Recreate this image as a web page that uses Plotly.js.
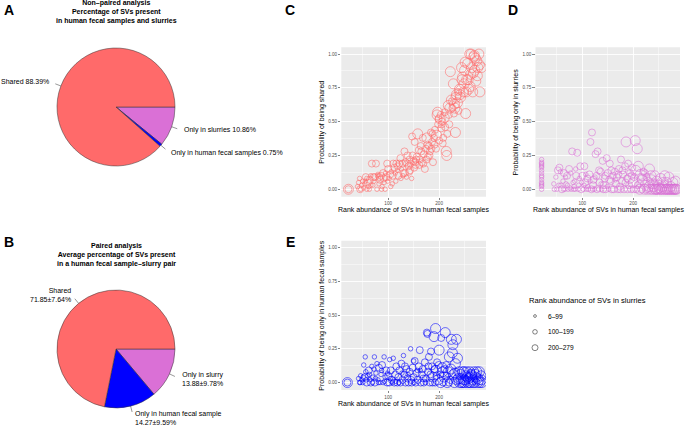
<!DOCTYPE html>
<html>
<head>
<meta charset="utf-8">
<script src="https://cdn.plot.ly/plotly-3.0.1.min.js"></script>
<style>html,body{margin:0;padding:0;background:#fff;}#chart{width:685px;height:425px;}</style>
</head>
<body>
<div id="chart"></div>
<script>
// ---------------- DATA ----------------
// Pie A: non-paired analysis
const pieACategories = ['Only in slurries', 'Only in human fecal samples', 'Shared'];
const pieAValues = [10.86, 0.75, 88.39];
// Pie B: paired analysis (mean ± sd)
const pieBCategories = ['Only in slurry', 'Only in human fecal sample', 'Shared'];
const pieBMeans = [13.88, 14.27, 71.85];
const pieBSDs = [9.78, 9.59, 7.64];

// Scatter points: [rank abundance in human fecal samples, probability, slurry rank group (1: 6-99, 2: 100-199, 3: 200-279)]
const sharedPoints = [
[22,0,3],[22,0,2],
[40,0.02,1],[42,0.05,1],[44,0.08,1],[46,0.0,1],[48,0.03,1],[50,0.06,1],[52,0.01,1],[54,0.04,1],[56,0.09,2],[58,0.0,1],[60,0.05,2],[62,0.02,1],[64,0.07,2],[66,0.1,1],[68,0.19,2],[70,0.03,1],[72,0.06,1],[74,0.09,2],[76,0.19,2],[78,0.0,1],[80,0.11,1],[82,0.04,1],[84,0.07,2],[86,0.1,2],[88,0.02,1],[90,0.12,2],[92,0.05,1],[94,0.0,1],[96,0.09,2],[98,0.19,2],
[45,0.0,2],[55,0.06,1],[63,0.0,1],[71,0.09,2],[79,0.1,1],[87,0.0,1],[95,0.12,1],[99,0.06,1],[58,0.08,1],[66,0.03,1],[83,0.09,2],[91,0.08,2],
[100,0.15,2],[102,0.08,1],[104,0.11,2],[106,0.13,1],[108,0.04,1],[110,0.19,2],[112,0.16,2],[114,0.12,1],[116,0.19,2],[118,0.14,1],[120,0.1,2],[122,0.19,2],[124,0.23,2],[126,0.15,1],[128,0.19,2],[130,0.12,2],[132,0.28,2],[134,0.2,2],[136,0.09,1],[138,0.25,2],[140,0.17,2],[142,0.22,2],[144,0.19,2],[146,0.08,1],[148,0.25,2],[150,0.21,2],[152,0.35,2],[154,0.18,2],[156,0.24,2],[158,0.41,3],[160,0.29,2],
[105,0.02,1],[115,0.06,1],[125,0.08,1],[133,0.12,2],[143,0.14,2],[147,0.39,2],[153,0.2,2],[109,0.1,2],[119,0.17,2],[129,0.1,1],[137,0.19,2],[141,0.13,2],[151,0.16,2],[155,0.22,2],
[162,0.22,2],[164,0.32,2],[166,0.2,2],[168,0.38,2],[170,0.26,2],[172,0.15,2],[174,0.3,2],[176,0.38,3],[178,0.24,2],[180,0.32,2],[182,0.28,2],[184,0.42,2],[186,0.35,2],[188,0.2,2],[190,0.38,2],[192,0.44,2],[194,0.3,2],[196,0.55,3],[198,0.48,2],[200,0.36,2],
[165,0.28,2],[175,0.22,2],[185,0.3,2],[195,0.4,3],[199,0.52,2],[187,0.41,2],[181,0.25,2],[169,0.19,2],[177,0.33,2],[191,0.33,2],[197,0.57,3],[161,0.18,2],
[202,0.52,3],[204,0.45,2],[206,0.5,2],[208,0.38,2],[210,0.53,3],[212,0.46,2],[214,0.28,3],[216,0.41,2],[218,0.62,3],[220,0.48,2],[222,0.87,3],[224,0.66,3],[226,0.6,2],[228,0.78,3],[230,0.63,3],[232,0.42,3],[234,0.7,3],[236,0.64,3],[238,0.58,2],[240,0.74,3],
[203,0.55,2],[207,0.34,2],[211,0.57,2],[215,0.25,3],[219,0.55,2],[225,0.65,2],[229,0.56,2],[233,0.68,3],[237,0.72,2],[205,0.48,2],[221,0.6,3],[231,0.6,3],
[242,0.68,3],[244,0.9,3],[246,0.83,3],[248,0.72,3],[250,0.88,3],[252,0.56,3],[254,0.81,3],[256,0.93,3],[258,0.74,3],[260,1.0,3],[262,0.85,3],[264,0.9,3],[266,0.72,3],[268,0.98,3],[270,0.88,3],[272,0.8,3],[274,0.95,3],[276,0.9,3],[278,1.0,3],[280,0.72,3],[283,0.9,3],
[245,0.81,3],[251,0.94,3],[257,0.81,3],[263,1.0,3],[267,0.86,3],[271,0.97,3],[275,0.84,3],[279,0.92,3],[269,0.99,3],[261,0.76,3],[253,0.72,3],[241,0.7,3],[249,0.78,3]
];

const onlySlurryPoints = [
[20,0,1],[20,0.02,1],[20,0.03,1],[20,0.04,1],[20,0.05,1],[20,0.07,1],[20,0.09,1],[20,0.1,1],[20,0.12,1],[20,0.14,1],[20,0.16,1],[20,0.17,1],[20,0.18,1],[20,0.19,1],[20,0.2,1],[20,0.22,1],
[45,0.0,1],[48,0.09,1],[50,0.0,1],[52,0.14,2],[55,0.16,2],[58,0.03,1],[60,0.0,2],[62,0.06,1],[64,0.12,2],[66,0.0,1],[68,0.04,1],[70,0.1,2],[72,0.0,1],[74,0.15,2],[76,0.01,1],[78,0.0,1],[80,0.28,2],[82,0.05,1],[84,0.02,1],[86,0.0,1],[88,0.1,2],[90,0.27,2],[92,0.0,1],[94,0.08,1],[96,0.17,2],[98,0.0,2],[99,0.05,1],
[44,0.04,1],[54,0.03,1],[57,0.13,1],[63,0.0,1],[67,0.09,1],[71,0.03,1],[77,0.12,1],[83,0.0,1],[87,0.15,1],[93,0.03,1],[85,0.06,1],
[100,0.1,2],[102,0.0,1],[104,0.17,2],[106,0.05,2],[108,0.0,1],[110,0.08,2],[112,0.0,1],[114,0.11,2],[116,0.35,2],[118,0.0,2],[119,0.42,2],[120,0.0,1],[122,0.07,2],[124,0.0,1],[126,0.26,2],[128,0.1,2],[130,0.28,2],[132,0.0,1],[134,0.05,2],[136,0.13,2],[138,0.0,1],[140,0.21,2],[142,0.03,2],[144,0.08,2],[146,0.0,2],[148,0.23,2],[150,0.12,2],[152,0.0,1],[154,0.19,2],[156,0.06,2],[158,0.0,2],[160,0.1,2],
[103,0.03,1],[107,0.11,1],[111,0.02,1],[115,0.06,1],[121,0.03,2],[125,0.09,1],[129,0.0,2],[133,0.14,2],[137,0.04,1],[141,0.0,2],[145,0.1,2],[149,0.02,1],[153,0.07,2],[157,0.14,2],
[162,0.0,2],[164,0.13,2],[166,0.04,2],[168,0.09,2],[170,0.0,2],[172,0.15,2],[174,0.02,2],[176,0.22,2],[178,0.06,2],[180,0.11,2],[182,0.0,2],[184,0.17,2],[186,0.35,3],[188,0.08,2],[190,0.19,2],[192,0.03,2],[194,0.12,2],[196,0.0,2],[198,0.16,2],[200,0.05,3],[202,0.09,2],[204,0.36,3],[206,0.0,2],[208,0.3,3],[210,0.17,3],[212,0.04,2],[214,0.11,3],[216,0.0,2],[218,0.07,3],[220,0.13,2],
[165,0.07,1],[171,0.11,2],[175,0.0,2],[179,0.14,2],[185,0.05,2],[189,0.0,2],[193,0.08,3],[197,0.1,2],[201,0.0,2],[205,0.14,3],[209,0.03,2],[213,0.0,3],[217,0.09,2],
[222,0.0,3],[224,0.03,3],[226,0.09,2],[228,0.0,3],[230,0.05,3],[232,0.15,3],[234,0.0,3],[236,0.07,3],[238,0.0,3],[240,0.02,3],[242,0.1,3],[244,0.0,3],[246,0.06,3],[248,0.0,3],[250,0.03,3],[252,0.0,3],[254,0.08,3],[256,0.0,3],[258,0.02,3],[260,0.0,3],[262,0.1,3],[264,0.0,3],[266,0.05,3],[268,0.0,3],[270,0.09,3],[272,0.0,3],[274,0.02,3],[276,0.0,3],[278,0.05,3],[280,0.0,3],[282,0.0,3],[284,0.0,3],
[223,0.12,2],[227,0.0,2],[231,0.02,3],[235,0.1,3],[239,0.04,3],[243,0.0,3],[247,0.0,3],[251,0.01,3],[255,0.0,3],[259,0.05,3],[263,0.0,3],[267,0.0,3],[271,0.0,3],[275,0.0,3],[279,0.0,3],[283,0.06,3],[285,0.0,3]
];

const onlyHumanPoints = [
[20,0,3],[20,0,2],
[42,0.03,1],[44,0.0,1],[46,0.05,1],[48,0.02,1],[50,0.0,1],[52,0.13,1],[54,0.04,2],[55,0.19,1],[56,0.08,1],[58,0.0,2],[60,0.05,1],[62,0.09,2],[64,0.02,1],[66,0.0,2],[68,0.12,1],[70,0.04,1],[72,0.1,1],[73,0.19,1],[74,0.0,2],[76,0.07,1],[78,0.14,1],[80,0.02,1],[82,0.11,2],[84,0.0,1],[86,0.06,1],[88,0.13,2],[90,0.0,1],[92,0.19,1],[94,0.04,1],[96,0.09,2],[98,0.0,2],
[45,0.0,1],[51,0.04,1],[57,0.02,1],[63,0.06,1],[69,0.0,1],[75,0.03,1],[81,0.0,1],[87,0.09,1],[93,0.01,1],[99,0.07,1],
[100,0.05,2],[102,0.0,2],[103,0.17,1],[105,0.09,2],[107,0.02,2],[110,0.18,1],[112,0.0,2],[114,0.06,2],[116,0.12,2],[118,0.0,2],[120,0.04,2],[122,0.09,2],[124,0.0,2],[126,0.14,2],[128,0.02,2],[130,0.2,1],[132,0.06,2],[134,0.0,2],[136,0.1,2],[138,0.03,2],[140,0.0,2],[142,0.08,2],[144,0.25,1],[146,0.0,2],[148,0.11,2],[150,0.04,2],[152,0.16,2],[154,0.0,2],[156,0.07,2],[158,0.02,2],[160,0.12,2],
[104,0.03,1],[108,0.0,1],[115,0.01,1],[121,0.0,1],[127,0.07,1],[133,0.12,2],[139,0.06,1],[145,0.02,2],[151,0.0,1],[157,0.09,1],[150,0.16,1],
[162,0.24,2],[164,0.0,2],[166,0.06,2],[168,0.1,2],[170,0.0,2],[172,0.15,2],[174,0.03,2],[176,0.37,2],[177,0.36,2],[178,0.08,2],[180,0.19,2],[182,0.0,2],[184,0.23,2],[186,0.12,2],[188,0.04,3],[190,0.34,3],[192,0.0,2],[193,0.4,3],[194,0.09,3],[196,0.15,2],[198,0.02,3],[200,0.24,3],[202,0.06,2],[204,0.33,2],[206,0.11,3],[208,0.0,2],[210,0.04,3],[212,0.37,3],[214,0.13,2],[216,0.0,3],[218,0.08,3],[220,0.19,3],[222,0.02,2],[224,0.32,3],[226,0.22,3],[228,0.06,3],[230,0.0,3],[232,0.14,3],[234,0.32,3],[236,0.18,3],[238,0.03,3],[240,0.0,3],
[163,0.09,1],[169,0.03,2],[173,0.0,1],[179,0.12,2],[183,0.06,2],[187,0.0,2],[191,0.1,2],[195,0.05,2],[199,0.13,2],[203,0.0,3],[207,0.08,3],[211,0.1,2],[215,0.05,2],[219,0.0,2],[223,0.1,3],[227,0.28,3],[231,0.07,3],[235,0.02,3],[239,0.08,3],
[242,0.06,3],[244,0.0,3],[246,0.08,3],[248,0.02,3],[250,0.0,3],[252,0.05,3],[254,0.08,3],[256,0.0,3],[258,0.03,3],[260,0.08,3],[262,0.0,3],[264,0.05,3],[266,0.02,3],[268,0.08,3],[270,0.0,3],[272,0.04,3],[274,0.08,3],[276,0.0,3],[278,0.02,3],[280,0.0,3],[282,0.05,3],[284,0.0,3],
[243,0.03,3],[247,0.0,3],[251,0.02,3],[255,0.04,3],[259,0.0,3],[263,0.06,3],[267,0.0,3],[271,0.06,3],[275,0.03,3],[279,0.08,3],[283,0.02,3],[249,0.08,3],[261,0.04,3]
];

const sizeGroupLabels = ['6\u201399', '100\u2013199', '200\u2013279'];
const sizeGroups = [1, 2, 3];

// ---------------- STYLE / LAYOUT ----------------
const W = 685, H = 425;
const PX = v => v / W;
const PY = v => 1 - v / H;
const FONT = 'Liberation Sans, Arial, Helvetica, sans-serif';
const RED = '#FF6A6A', ORCHID = '#DA70D6', BLUE = '#0000FF';
const SIZE_PX = {1: 4.5, 2: 7, 3: 10};
const LEGEND_SIZE_PX = {1: 2.8, 2: 4.6, 3: 6};

const pieA = {cx: 116, cy: 107, r: 59};
const pieB = {cx: 116, cy: 349, r: 59};

function pieDomain(p) {
  return {x: [PX(p.cx - p.r), PX(p.cx + p.r)], y: [PY(p.cy + p.r), PY(p.cy - p.r)]};
}

const traces = [];
traces.push({
  type: 'pie', values: pieAValues, labels: pieACategories, sort: false,
  direction: 'clockwise', rotation: 90, textinfo: 'none', hoverinfo: 'label+value',
  marker: {colors: [ORCHID, BLUE, RED], line: {color: '#333333', width: 0.5}},
  domain: pieDomain(pieA), showlegend: false
});
traces.push({
  type: 'pie', values: pieBMeans, labels: pieBCategories, sort: false,
  direction: 'clockwise', rotation: 90, textinfo: 'none', hoverinfo: 'label+value',
  marker: {colors: [ORCHID, BLUE, RED], line: {color: '#333333', width: 0.5}},
  domain: pieDomain(pieB), showlegend: false
});

function scatterTrace(points, color, xa, ya) {
  return {
    type: 'scatter', mode: 'markers', xaxis: xa, yaxis: ya,
    x: points.map(p => p[0]), y: points.map(p => p[1]),
    marker: {symbol: 'circle-open', color: color, size: points.map(p => SIZE_PX[p[2]]),
             line: {color: color, width: 0.8}},
    showlegend: false, hoverinfo: 'x+y'
  };
}
traces.push(scatterTrace(sharedPoints, RED, 'x', 'y'));
traces.push(scatterTrace(onlySlurryPoints, ORCHID, 'x2', 'y2'));
traces.push(scatterTrace(onlyHumanPoints, BLUE, 'x3', 'y3'));

// size legend keys
traces.push({
  type: 'scatter', mode: 'markers', xaxis: 'x4', yaxis: 'y4', cliponaxis: false,
  x: sizeGroups.map(() => 0), y: sizeGroups,
  marker: {symbol: 'circle-open', color: '#000', size: sizeGroups.map(g => LEGEND_SIZE_PX[g]), line: {color: '#000', width: 0.7}},
  showlegend: false, hoverinfo: 'skip'
});

// panel geometry (px)
const C = {l: 341.3, r: 486, t: 47.3, b: 196.7};
const D = {l: 535.5, r: 680, t: 47.3, b: 196.7};
const E = {l: 341.3, r: 486, t: 240.7, b: 390};

function xAxis(box, anchor) {
  return {
    domain: [PX(box.l), PX(box.r)], anchor: anchor, range: [8, 292],
    tickmode: 'linear', tick0: 0, dtick: 100,
    ticks: 'outside', ticklen: 2.2, tickwidth: 0.6, tickcolor: '#333333',
    tickfont: {family: FONT, size: 4.6, color: '#4D4D4D'},
    showgrid: true, gridcolor: '#FFFFFF', gridwidth: 0.9,
    minor: {tick0: 0, dtick: 50, showgrid: true, gridcolor: '#FFFFFF', gridwidth: 0.45, ticks: ''},
    zeroline: false, showline: false, fixedrange: true
  };
}
function yAxis(box, anchor) {
  return {
    domain: [PY(box.b), PY(box.t)], anchor: anchor, range: [-0.055, 1.05],
    tickmode: 'linear', tick0: 0, dtick: 0.25, tickformat: '.2f',
    ticks: 'outside', ticklen: 2.2, tickwidth: 0.6, tickcolor: '#333333',
    tickfont: {family: FONT, size: 4.6, color: '#4D4D4D'},
    showgrid: true, gridcolor: '#FFFFFF', gridwidth: 0.9,
    minor: {tick0: 0, dtick: 0.125, showgrid: true, gridcolor: '#FFFFFF', gridwidth: 0.45, ticks: ''},
    zeroline: false, showline: false, fixedrange: true
  };
}

const shapes = [];
[['x', 'y'], ['x2', 'y2'], ['x3', 'y3']].forEach(([xa, ya]) => {
  shapes.push({type: 'rect', xref: xa + ' domain', yref: ya + ' domain', x0: 0, x1: 1, y0: 0, y1: 1,
               fillcolor: '#EBEBEB', line: {width: 0}, layer: 'below'});
});

// pie leader lines from slice mid-angles
function leaders(values, p) {
  const total = values.reduce((a, b) => a + b, 0);
  let cum = 0;
  values.forEach(v => {
    const mid = (cum + v / 2) / total * 2 * Math.PI; // clockwise from 3 o'clock
    cum += v;
    const c = Math.cos(mid), s = Math.sin(mid);
    shapes.push({type: 'line', xref: 'paper', yref: 'paper',
      x0: PX(p.cx + p.r * c), y0: PY(p.cy + p.r * s),
      x1: PX(p.cx + (p.r + 6) * c), y1: PY(p.cy + (p.r + 6) * s),
      line: {color: '#333333', width: 0.5}});
  });
}
leaders(pieAValues, pieA);
leaders(pieBMeans, pieB);

const annotations = [];
function ann(text, x, y, opts) {
  annotations.push(Object.assign({text: text, xref: 'paper', yref: 'paper', x: PX(x), y: PY(y),
    showarrow: false, xanchor: 'center', yanchor: 'middle', borderpad: 0,
    font: {family: FONT, size: 7, color: '#000'}}, opts || {}));
}

// panel letters
const letterFont = {family: FONT, size: 14, color: '#000'};
[['A', 9, 10], ['B', 9, 242], ['C', 289.5, 10], ['D', 512.5, 10], ['E', 290.5, 242]].forEach(([t, x, y]) =>
  ann('<b>' + t + '</b>', x, y, {font: letterFont}));

// pie titles
ann('<b>Non\u2013paired analysis<br>Percentage of SVs present<br>in human fecal samples and slurries</b>', 116, 12, {font: {family: FONT, size: 7, color: '#000'}});
ann('<b>Paired analysis<br>Average percentage of SVs present<br>in a human fecal sample\u2013slurry pair</b>', 116, 255, {font: {family: FONT, size: 7, color: '#000'}});

// pie labels
const pieALabelPos = [{x: 183, y: 129.7, xanchor: 'left'}, {x: 170, y: 152.7, xanchor: 'left'}, {x: 49.5, y: 82, xanchor: 'right'}];
pieACategories.forEach((c, i) => ann(c + ' ' + pieAValues[i].toFixed(2) + '%', pieALabelPos[i].x, pieALabelPos[i].y, {xanchor: pieALabelPos[i].xanchor}));
const pieBLabelPos = [{x: 202.5, y: 378.7, xanchor: 'center', align: 'center'},
                      {x: 134, y: 417.7, xanchor: 'left', align: 'left'},
                      {x: 71.5, y: 294.7, xanchor: 'right', align: 'right'}];
pieBCategories.forEach((c, i) => ann(c + '<br>' + pieBMeans[i].toFixed(2) + '\u00b1' + pieBSDs[i].toFixed(2) + '%',
  pieBLabelPos[i].x, pieBLabelPos[i].y, {xanchor: pieBLabelPos[i].xanchor, align: pieBLabelPos[i].align}));

// axis titles
const xTitle = 'Rank abundance of SVs in human fecal samples';
ann(xTitle, (C.l + C.r) / 2, 210);
ann(xTitle, (D.l + D.r) / 2 + 0.5, 210);
ann(xTitle, (E.l + E.r) / 2, 403.5);
ann('Probability of being shared', 321.7, (C.t + C.b) / 2, {textangle: -90});
ann('Probability of being only in slurries', 515.5, (D.t + D.b) / 2, {textangle: -90});
ann('Probability of being only in human fecal samples', 322.3, (E.t + E.b) / 2, {textangle: -90});

// size legend
ann('Rank abundance of SVs in slurries', 528, 300, {xanchor: 'left', font: {family: FONT, size: 7.6, color: '#000'}});
sizeGroupLabels.forEach((t, i) => annotations.push({text: t, xref: 'x4', yref: 'y4', x: 1.2, y: sizeGroups[i],
  xanchor: 'left', yanchor: 'middle', showarrow: false, borderpad: 0, font: {family: FONT, size: 6.6, color: '#000'}}));

const layout = {
  width: W, height: H, margin: {l: 0, r: 0, t: 0, b: 0},
  paper_bgcolor: '#FFFFFF', plot_bgcolor: 'rgba(0,0,0,0)',
  font: {family: FONT, size: 7, color: '#000'},
  showlegend: false,
  xaxis: xAxis(C, 'y'), yaxis: yAxis(C, 'x'),
  xaxis2: xAxis(D, 'y2'), yaxis2: yAxis(D, 'x2'),
  xaxis3: xAxis(E, 'y3'), yaxis3: yAxis(E, 'x3'),
  xaxis4: {domain: [PX(525), PX(600)], anchor: 'y4', range: [-1, 6.5], visible: false, fixedrange: true},
  yaxis4: {domain: [PY(355.6), PY(308.1)], anchor: 'x4', range: [3.5, 0.5], visible: false, fixedrange: true},
  shapes: shapes, annotations: annotations
};

Plotly.newPlot('chart', traces, layout, {staticPlot: true, displayModeBar: false});
</script>
</body>
</html>
